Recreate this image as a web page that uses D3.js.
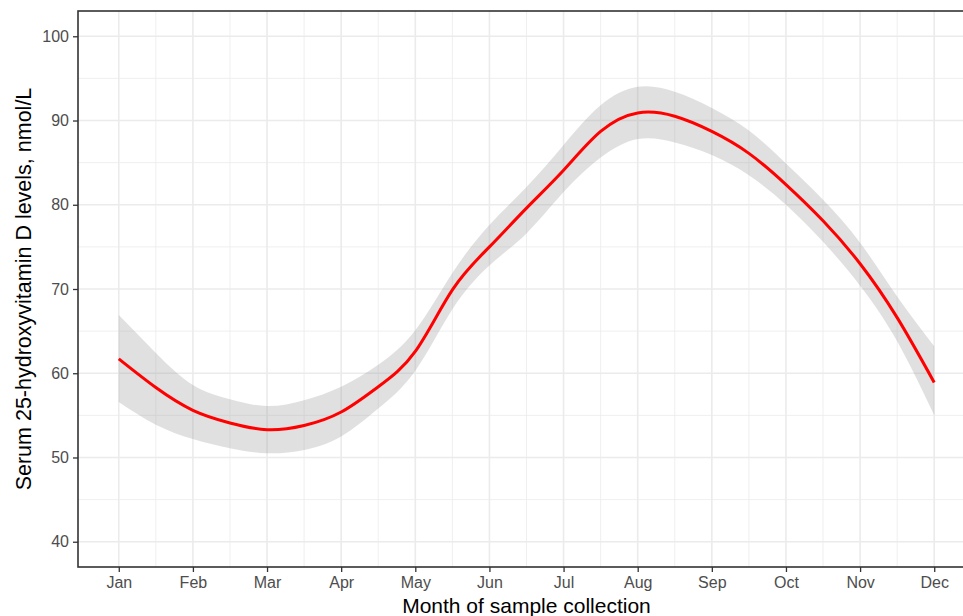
<!DOCTYPE html>
<html>
<head>
<meta charset="utf-8">
<script src="https://cdn.jsdelivr.net/npm/d3@7"></script>
<style>
  body { margin: 0; background: #fff; }
  svg { display: block; font-family: "Liberation Sans", Arial, sans-serif; }
</style>
</head>
<body>
<svg width="963" height="616"></svg>
<script>
// smoothed fit (loess-like), half-month steps
const months = [1, 1.5, 2, 2.5, 3, 3.5, 4, 4.5, 5, 5.5, 6, 6.5, 7, 7.5, 8, 8.5, 9, 9.5, 10, 10.5, 11, 11.5, 12]
const fitValues = [61.7, 58.3, 55.6, 54.1, 53.3, 53.8, 55.4, 58.4, 62.6, 69.9, 75.0, 79.6, 84.1, 88.7, 90.9, 90.5, 88.7, 86.1, 82.4, 78.1, 73.0, 66.6, 58.9]
const upperValues = [66.9, 62.4, 58.6, 56.9, 56.1, 56.8, 58.4, 61.0, 65.1, 71.9, 77.6, 82.1, 87.1, 91.8, 94.0, 93.4, 91.5, 88.8, 84.9, 80.6, 75.5, 69.1, 63.2]
const lowerValues = [56.6, 53.9, 52.2, 51.1, 50.5, 50.9, 52.5, 55.8, 60.3, 67.6, 72.8, 76.6, 81.5, 85.6, 87.8, 87.4, 85.9, 83.5, 80.0, 75.6, 70.4, 63.8, 55.0]

const monthLabels = ['Jan', 'Feb', 'Mar', 'Apr', 'May', 'Jun', 'Jul', 'Aug', 'Sep', 'Oct', 'Nov', 'Dec']
const yTicks = [40, 50, 60, 70, 80, 90, 100]
const yMinor = [45, 55, 65, 75, 85, 95]

const svg = d3.select('svg')
const m = { left: 78, top: 11, right: 975, bottom: 567 }

// ggplot style 5% expansion on both axes
const x = d3.scaleLinear().domain([0.45, 12.55]).range([m.left, m.right])
const y = d3.scaleLinear().domain([37, 103]).range([m.bottom, m.top])

const data = months.map((d, i) => ({ m: d, fit: fitValues[i], hi: upperValues[i], lo: lowerValues[i] }))
const xMajor = d3.range(1, 13)
const xMinor = d3.range(1.5, 12, 1)

const grid = svg.append('g')
grid.selectAll('.vmin').data(xMinor).join('line')
  .attr('x1', d => x(d)).attr('x2', d => x(d))
  .attr('y1', m.top).attr('y2', m.bottom)
  .attr('stroke', '#ebebeb').attr('stroke-width', 0.8)
grid.selectAll('.hmin').data(yMinor).join('line')
  .attr('y1', d => y(d)).attr('y2', d => y(d))
  .attr('x1', m.left).attr('x2', m.right)
  .attr('stroke', '#ebebeb').attr('stroke-width', 0.8)
grid.selectAll('.vmaj').data(xMajor).join('line')
  .attr('x1', d => x(d)).attr('x2', d => x(d))
  .attr('y1', m.top).attr('y2', m.bottom)
  .attr('stroke', '#ebebeb').attr('stroke-width', 1.6)
grid.selectAll('.hmaj').data(yTicks).join('line')
  .attr('y1', d => y(d)).attr('y2', d => y(d))
  .attr('x1', m.left).attr('x2', m.right)
  .attr('stroke', '#ebebeb').attr('stroke-width', 1.6)

// confidence band + fitted line
const area = d3.area()
  .x(d => x(d.m)).y0(d => y(d.lo)).y1(d => y(d.hi))
  .curve(d3.curveNatural)
svg.append('path').datum(data)
  .attr('d', area)
  .attr('fill', '#999999').attr('fill-opacity', 0.3)

const line = d3.line().x(d => x(d.m)).y(d => y(d.fit)).curve(d3.curveNatural)
svg.append('path').datum(data)
  .attr('d', line)
  .attr('fill', 'none').attr('stroke', '#ff0000').attr('stroke-width', 3)

// panel border
svg.append('rect')
  .attr('x', m.left).attr('y', m.top)
  .attr('width', m.right - m.left).attr('height', m.bottom - m.top)
  .attr('fill', 'none').attr('stroke', '#333333').attr('stroke-width', 1.6)

// axes
const xAxis = svg.append('g')
  .attr('transform', `translate(0,${m.bottom})`)
  .call(d3.axisBottom(x).tickValues(xMajor).tickFormat(d => monthLabels[d - 1]).tickSize(5).tickPadding(5))
const yAxis = svg.append('g')
  .attr('transform', `translate(${m.left},0)`)
  .call(d3.axisLeft(y).tickValues(yTicks).tickSize(5).tickPadding(4))

;[xAxis, yAxis].forEach(a => {
  a.select('.domain').remove()
  a.selectAll('.tick line').attr('stroke', '#333333').attr('stroke-width', 1.3)
  a.selectAll('.tick text')
    .attr('fill', '#4d4d4d')
    .style('font-size', '16px')
    .style('font-family', '"Liberation Sans", Arial, sans-serif')
})

svg.append('text')
  .attr('x', (m.left + m.right) / 2).attr('y', 613)
  .attr('text-anchor', 'middle')
  .style('font-size', '21px')
  .text('Month of sample collection')

svg.append('text')
  .attr('transform', `translate(31,${(m.top + m.bottom) / 2}) rotate(-90)`)
  .attr('text-anchor', 'middle')
  .style('font-size', '21.5px')
  .text('Serum 25-hydroxyvitamin D levels, nmol/L')
</script>
</body>
</html>
